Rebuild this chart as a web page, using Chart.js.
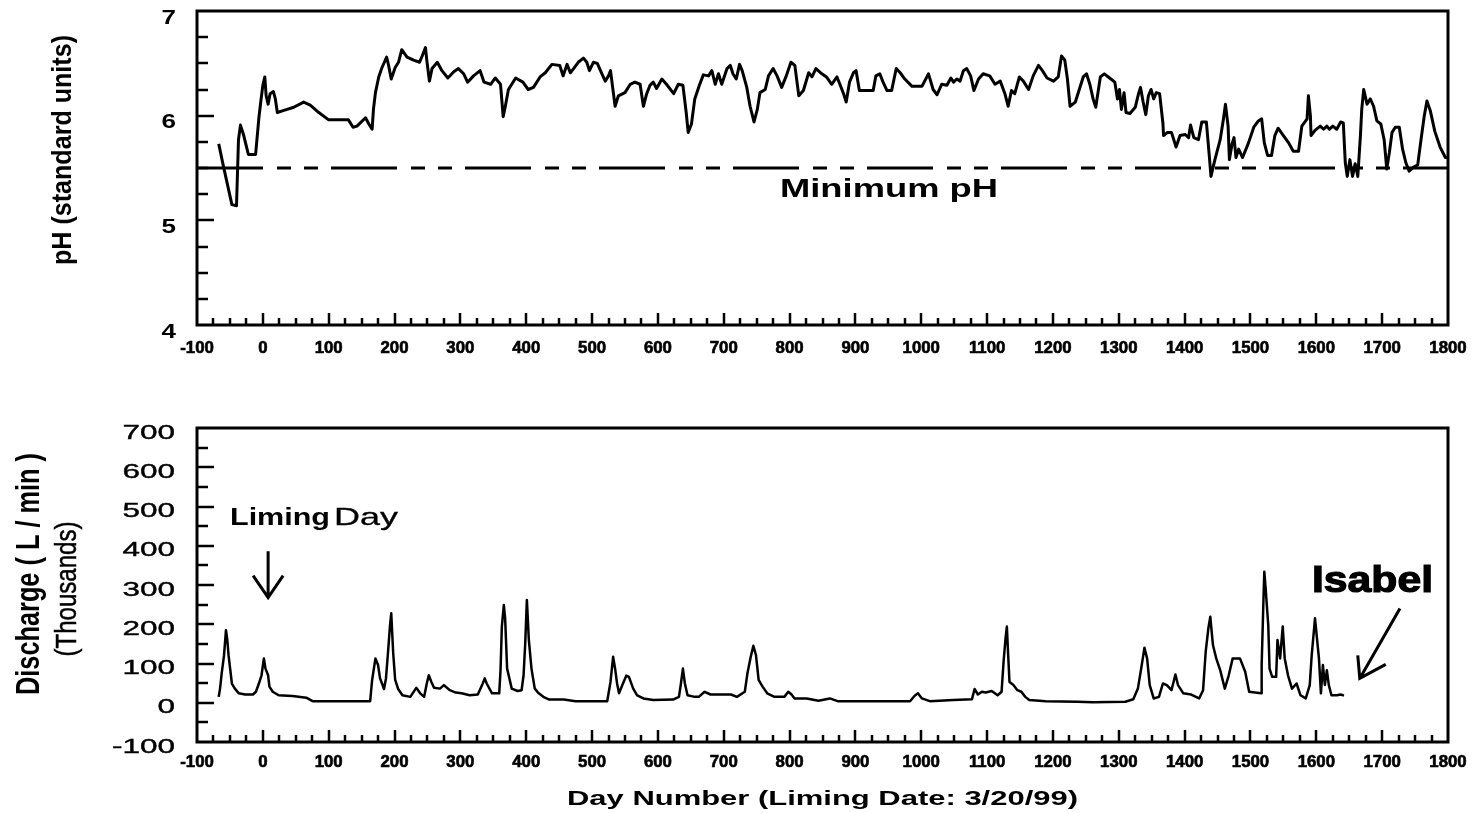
<!DOCTYPE html>
<html>
<head>
<meta charset="utf-8">
<title>Stream pH and discharge after liming</title>
<script src="https://cdn.jsdelivr.net/npm/chart.js@4.4.1/dist/chart.umd.min.js"></script>
<style>
  body { margin: 0; background: #fff; }
  #wrap { position: relative; width: 1476px; height: 813px; }
  canvas { position: absolute; left: 0; }
</style>
</head>
<body>
<div id="wrap">
  <canvas id="phChart" width="1476" height="380" style="top:0"></canvas>
  <canvas id="qChart" width="1476" height="433" style="top:380px"></canvas>
</div>
<script>
// tick labels
const dayTicks = [-100, 0, 100, 200, 300, 400, 500, 600, 700, 800, 900, 1000, 1100, 1200, 1300, 1400, 1500, 1600, 1700, 1800];
const phTicks = [4, 5, 6, 7];
const dischargeTicks = [-100, 0, 100, 200, 300, 400, 500, 600, 700];

// pH record (day number, standard units)
const phDays = [-67, -60, -47, -40, -37, -34, -29, -22, -11, -6, -3, 0, 3, 5, 8, 11, 16, 19, 22, 32, 47, 62, 72, 85, 100, 130, 137, 143, 156, 161, 166, 168, 171, 176, 181, 188, 191, 195, 201, 206, 211, 219, 229, 238, 242, 247, 249, 253, 257, 265, 272, 281, 290, 297, 305, 311, 320, 330, 336, 346, 353, 361, 365, 368, 373, 384,
  395, 403, 411, 421, 429, 439, 451, 456, 462, 467, 472, 479, 487, 492, 496, 502, 508, 515, 520, 525, 528, 535, 540, 550, 558, 565, 573, 578, 583, 588, 593, 598, 606, 613, 624, 631, 638, 643, 646, 651, 656, 663, 669, 677, 682, 687, 692, 697, 705, 710, 714, 719, 724, 728, 735, 740, 746, 751, 755, 763, 768, 775, 781, 788, 795, 802, 808, 814, 821, 829, 834, 840, 849,
  856, 864, 872, 877, 882, 886, 891, 897, 901, 906, 927, 931, 937, 942, 948, 955, 962, 968, 975, 986, 1001, 1011, 1018, 1024, 1031, 1039, 1045, 1049, 1054, 1059, 1064, 1069, 1075, 1080, 1087, 1094, 1104, 1112, 1120, 1127, 1132, 1137, 1142, 1149, 1155, 1163, 1170, 1178, 1184, 1191, 1201, 1208, 1213, 1218, 1222, 1226, 1234, 1240, 1246, 1251, 1256, 1261, 1265, 1272, 1278, 1286, 1294, 1298, 1301, 1304, 1308, 1311,
  1317, 1325, 1330, 1333, 1337, 1341, 1345, 1349, 1353, 1357, 1362, 1367, 1368, 1374, 1380, 1387, 1393, 1401, 1406, 1409, 1414, 1421, 1426, 1433, 1437, 1440, 1446, 1454, 1459, 1462, 1466, 1468, 1472, 1475, 1478, 1482, 1488, 1497, 1505, 1512, 1517, 1521, 1526, 1532, 1537, 1542, 1550, 1558, 1565, 1573, 1578, 1586, 1588, 1591, 1592, 1598, 1606, 1611, 1616, 1620, 1625, 1631, 1637, 1641,
  1644, 1647, 1651, 1655, 1659, 1663, 1667, 1669, 1672, 1677, 1682, 1687, 1692, 1698, 1703, 1707, 1711, 1715, 1720, 1726, 1731, 1736, 1741, 1748, 1754, 1759, 1764, 1768, 1773, 1780, 1788, 1796, 1800];
const phValues = [5.73, 5.52, 5.15, 5.14, 5.77, 5.91, 5.81, 5.63, 5.63, 5.98, 6.14, 6.29, 6.37, 6.19, 6.11, 6.21, 6.23, 6.16, 6.03, 6.05, 6.08, 6.13, 6.10, 6.03, 5.96, 5.96, 5.89, 5.90, 5.98, 5.92, 5.87, 6.06, 6.22, 6.37, 6.46, 6.56, 6.48, 6.35, 6.46, 6.51, 6.63, 6.56, 6.53, 6.51, 6.57, 6.65, 6.53, 6.33, 6.45, 6.51, 6.43, 6.36, 6.42, 6.45, 6.40, 6.32, 6.38, 6.43, 6.32, 6.30, 6.36, 6.30, 5.99, 6.08, 6.25, 6.36,
  6.32, 6.25, 6.27, 6.37, 6.41, 6.49, 6.48, 6.38, 6.49, 6.41, 6.45, 6.51, 6.55, 6.51, 6.43, 6.51, 6.50, 6.40, 6.33, 6.38, 6.43, 6.09, 6.19, 6.22, 6.30, 6.32, 6.30, 6.09, 6.21, 6.29, 6.32, 6.26, 6.35, 6.30, 6.21, 6.30, 6.29, 6.03, 5.84, 5.92, 6.16, 6.29, 6.39, 6.38, 6.43, 6.30, 6.40, 6.30, 6.45, 6.48, 6.40, 6.35, 6.49, 6.43, 6.27, 6.09, 5.94, 6.06, 6.22, 6.25, 6.38, 6.45, 6.38, 6.27, 6.38, 6.51, 6.48, 6.19, 6.24, 6.41, 6.37, 6.45, 6.40,
  6.37, 6.30, 6.37, 6.29, 6.21, 6.13, 6.32, 6.41, 6.43, 6.24, 6.24, 6.38, 6.40, 6.32, 6.24, 6.24, 6.45, 6.41, 6.35, 6.28, 6.28, 6.40, 6.25, 6.20, 6.30, 6.29, 6.36, 6.32, 6.35, 6.33, 6.43, 6.45, 6.38, 6.24, 6.35, 6.40, 6.38, 6.30, 6.33, 6.21, 6.09, 6.24, 6.21, 6.37, 6.33, 6.25, 6.38, 6.48, 6.43, 6.36, 6.33, 6.37, 6.57, 6.53, 6.35, 6.09, 6.13, 6.25, 6.37, 6.40, 6.30, 6.16, 6.08, 6.37, 6.40, 6.36, 6.32, 6.16, 6.25, 6.06, 6.22, 6.03,
  6.02, 6.08, 6.21, 6.27, 6.13, 6.01, 6.19, 6.25, 6.16, 6.22, 6.21, 5.93, 5.81, 5.84, 5.84, 5.70, 5.81, 5.82, 5.79, 5.91, 5.79, 5.77, 5.94, 5.94, 5.65, 5.42, 5.58, 5.77, 5.97, 6.11, 5.90, 5.58, 5.73, 5.79, 5.60, 5.68, 5.60, 5.74, 5.89, 5.95, 5.97, 5.74, 5.62, 5.62, 5.81, 5.88, 5.81, 5.74, 5.66, 5.66, 5.90, 5.97, 6.19, 6.00, 5.81, 5.86, 5.90, 5.87, 5.90, 5.87, 5.90, 5.87, 5.94, 5.93,
  5.55, 5.42, 5.58, 5.42, 5.54, 5.42, 5.81, 6.06, 6.25, 6.11, 6.16, 6.09, 5.95, 5.92, 5.77, 5.49, 5.65, 5.84, 5.89, 5.89, 5.68, 5.55, 5.47, 5.51, 5.53, 5.77, 6.00, 6.14, 6.05, 5.85, 5.70, 5.60, 5.60];
const minPh = 5.5;

// discharge record (day number, thousands of L/min)
const qDays = [-67, -65, -62.5, -59, -56, -54, -52, -47, -42.5, -36.5, -27, -15, -10.5, -6, -2, 1.6, 4, 8, 10, 15, 24, 45, 66, 75.5, 127, 163, 166, 171, 175, 178, 181, 184, 187, 190, 193, 195, 198, 201, 205.5, 212, 224, 233, 239, 245, 249, 252, 256, 260, 269, 275, 284, 293, 302, 314, 326.5, 334, 337, 340, 348, 359, 361, 363, 366, 368, 371, 378, 387, 393, 396, 398.5, 401, 404, 408, 413, 419, 426, 435,
  457, 475, 499, 523, 528, 532, 535, 538, 541, 546, 552, 556, 562.5, 568.5, 578, 593, 623, 632, 635, 638, 641, 645, 656, 662, 671, 680, 711, 720, 732, 736, 741, 745, 749, 753, 759, 766, 777, 792, 798, 803, 807.5, 826, 844, 861, 873, 983, 990, 995, 1001, 1013, 1049, 1077, 1081, 1086, 1092, 1098, 1107, 1116, 1122, 1125, 1128, 1130, 1132, 1134, 1140, 1146, 1152, 1158, 1164, 1189, 1237, 1261,
  1310, 1322, 1329, 1334, 1339, 1343, 1347, 1353, 1361, 1367, 1373, 1380, 1386, 1390, 1398, 1410, 1422, 1428, 1432, 1436, 1439, 1443, 1448, 1454, 1461, 1467, 1473, 1484, 1492, 1498, 1516, 1517, 1519.5, 1521, 1523, 1527, 1529, 1533, 1539, 1541, 1545, 1549, 1552, 1557, 1563, 1570, 1576, 1584, 1590, 1593, 1598, 1601, 1604, 1607, 1610, 1613, 1616, 1619, 1623, 1631, 1637, 1642];
const qValues = [15, 36, 75, 120, 185, 160, 120, 49, 36, 24, 21, 21, 28, 49, 70, 113, 87, 70, 41, 28, 19, 17, 13, 4, 4, 4, 58, 113, 96, 62, 49, 35, 62, 126, 194, 228, 126, 58, 35, 19, 15, 38, 24, 15, 49, 70, 53, 38, 36, 45, 32, 26, 24, 19, 21, 49, 62, 49, 24, 24, 83, 194, 249, 215, 87, 36, 30, 32, 70, 151, 262, 160, 87, 36, 24, 15, 8,
  8, 4, 4, 4, 53, 117, 87, 49, 24, 45, 69, 66, 36, 19, 11, 7, 8, 15, 49, 87, 49, 19, 15, 15, 28, 21, 21, 15, 28, 75, 117, 145, 121, 58, 41, 24, 15, 15, 28, 21, 11, 11, 5, 11, 4, 4, 18, 24, 11, 4, 7, 9, 35, 21, 28, 26, 30, 19, 28, 104, 164, 194, 121, 53, 45, 32, 28, 15, 7, 4, 2.5, 1,
  2.5, 9, 36, 87, 140, 113, 45, 11, 15, 49, 45, 32, 72, 45, 24, 21, 11, 32, 130, 189, 219, 147, 113, 83, 36, 70, 113, 113, 79, 28, 24, 96, 249, 334, 292, 198, 87, 66, 66, 160, 113, 194, 113, 70, 36, 49, 19, 11, 45, 121, 215, 164, 113, 24, 96, 45, 83, 45, 19, 19, 21, 18];

const FONT = '"Liberation Sans", Arial, Helvetica, sans-serif';
const Q_TOP = 380; // page offset of the lower canvas

// text squeezed or stretched sideways by a factor
function scaledText(ctx, text, font, x, y, sx, align, heavy) {
    ctx.save();
    ctx.font = font;
    ctx.fillStyle = '#000';
    ctx.strokeStyle = '#000';
    ctx.textAlign = align;
    ctx.textBaseline = 'alphabetic';
    ctx.translate(x, y);
    ctx.scale(sx, 1);
    ctx.fillText(text, 0, 0);
    if (heavy) {
        ctx.lineWidth = heavy;
        ctx.strokeText(text, 0, 0);
    }
    ctx.restore();
}

// text fitted to a given width
function fittedText(ctx, text, font, x, y, width, align, heavy) {
    ctx.save();
    ctx.font = font;
    const sx = width / ctx.measureText(text).width;
    ctx.restore();
    scaledText(ctx, text, font, x, y, sx, align, heavy);
}

// rotated axis title, reading bottom to top
function verticalText(ctx, text, font, cx, cy, length, thick, heavy) {
    ctx.save();
    ctx.font = font;
    const w = ctx.measureText(text).width;
    ctx.fillStyle = '#000';
    ctx.strokeStyle = '#000';
    ctx.textAlign = 'center';
    ctx.textBaseline = 'middle';
    ctx.translate(cx, cy);
    ctx.rotate(-Math.PI / 2);
    ctx.scale(length / w, thick);
    ctx.fillText(text, 0, 0);
    if (heavy) {
        ctx.lineWidth = heavy;
        ctx.strokeText(text, 0, 0);
    }
    ctx.restore();
}

// box round the plot, inward tick marks and the day labels under it
function drawFrame(chart, yMinor, yMajor, labelBase) {
    const ctx = chart.ctx;
    const a = chart.chartArea;
    const xs = chart.scales.x;
    const ys = chart.scales.y;
    ctx.save();
    ctx.strokeStyle = '#000';
    ctx.lineWidth = 2.5;
    ctx.beginPath();
    for (let d = xs.min + 25; d < xs.max; d += 25) {
        const px = Math.round(xs.getPixelForValue(d));
        const len = d % 100 === 0 ? 12 : 7;
        ctx.moveTo(px, a.bottom);
        ctx.lineTo(px, a.bottom - len);
    }
    for (let v = ys.min + yMinor; v < ys.max; v += yMinor) {
        const py = Math.round(ys.getPixelForValue(v));
        const r = v / yMajor;
        const len = Math.abs(r - Math.round(r)) < 1e-6 ? 17 : 11;
        ctx.moveTo(a.left, py);
        ctx.lineTo(a.left + len, py);
    }
    ctx.stroke();
    ctx.lineWidth = 3;
    ctx.strokeRect(a.left, a.top, a.right - a.left, a.bottom - a.top);
    ctx.restore();

    xs.ticks.forEach(t => {
        scaledText(ctx, String(t.value), 'bold 16px ' + FONT, xs.getPixelForValue(t.value), a.bottom + labelBase, 1.05, 'center', 0.6);
    });
}

// arrow given in data units, head drawn in pixels
function arrow(ctx, xs, ys, from, to, arms) {
    const x1 = xs.getPixelForValue(from[0]), y1 = ys.getPixelForValue(from[1]);
    const x2 = xs.getPixelForValue(to[0]), y2 = ys.getPixelForValue(to[1]);
    ctx.save();
    ctx.strokeStyle = '#000';
    ctx.lineWidth = 3;
    ctx.beginPath();
    ctx.moveTo(x1, y1);
    ctx.lineTo(x2, y2);
    ctx.moveTo(x2 + arms[0][0], y2 + arms[0][1]);
    ctx.lineTo(x2, y2);
    ctx.lineTo(x2 + arms[1][0], y2 + arms[1][1]);
    ctx.stroke();
    ctx.restore();
}

function toPoints(xs, ys) {
    return xs.map((x, i) => ({ x: x, y: ys[i] }));
}

function chartOptions(cfg) {
    return {
        responsive: false,
        animation: false,
        events: [],
        layout: { padding: { top: cfg.top, right: 28, left: 0, bottom: 0 } },
        plugins: { legend: { display: false }, tooltip: { enabled: false } },
        elements: { point: { radius: 0 }, line: { tension: 0, borderJoinStyle: 'round' } },
        scales: {
            x: {
                type: 'linear',
                min: dayTicks[0],
                max: dayTicks[dayTicks.length - 1],
                afterBuildTicks: s => { s.ticks = dayTicks.map(v => ({ value: v })); },
                afterFit: s => { s.height = cfg.xHeight; },
                grid: { display: false, drawTicks: false },
                border: { display: false },
                ticks: { display: false }
            },
            y: {
                type: 'linear',
                min: cfg.yTicks[0],
                max: cfg.yTicks[cfg.yTicks.length - 1],
                afterBuildTicks: s => { s.ticks = cfg.yTicks.map(v => ({ value: v })); },
                afterFit: s => { s.width = 197; },
                grid: { display: false, drawTicks: false },
                border: { display: false },
                ticks: { display: false }
            }
        }
    };
}

// upper panel: pH
new Chart(document.getElementById('phChart'), {
    type: 'line',
    data: {
        datasets: [
            { data: toPoints(phDays, phValues), borderColor: '#000', borderWidth: 3, pointRadius: 0 },
            {
                data: toPoints([dayTicks[0], dayTicks[dayTicks.length - 1]], [minPh, minPh]),
                borderColor: '#000', borderWidth: 3, pointRadius: 0,
                borderDash: [66, 14, 14, 13, 14, 13]
            }
        ]
    },
    options: chartOptions({ top: 11, xHeight: 55, yTicks: phTicks }),
    plugins: [{
        id: 'phDecor',
        afterDraw(chart) {
            const ctx = chart.ctx;
            const ys = chart.scales.y;
            drawFrame(chart, 0.25, 1, 28);
            ys.ticks.forEach(t => {
                scaledText(ctx, String(t.value), 'bold 20px ' + FONT, 176, ys.getPixelForValue(t.value) + 12.5, 1.3, 'right');
            });
            verticalText(ctx, 'pH (standard units)', 'bold 25px ' + FONT, 63, 150, 230, 1.1);
            fittedText(ctx, 'Minimum pH', 'bold 25px ' + FONT, 780, 197, 218, 'left');
        }
    }]
});

// lower panel: discharge
new Chart(document.getElementById('qChart'), {
    type: 'line',
    data: {
        datasets: [
            { data: toPoints(qDays, qValues), borderColor: '#000', borderWidth: 2.5, pointRadius: 0 }
        ]
    },
    options: chartOptions({ top: 428 - Q_TOP, xHeight: 433 - (742 - Q_TOP), yTicks: dischargeTicks }),
    plugins: [{
        id: 'qDecor',
        afterDraw(chart) {
            const ctx = chart.ctx;
            const xs = chart.scales.x;
            const ys = chart.scales.y;
            drawFrame(chart, 50, 100, 25);
            ys.ticks.forEach(t => {
                scaledText(ctx, String(t.value), '21px ' + FONT, 175, ys.getPixelForValue(t.value) + 10.5, 1.5, 'right', 0.4);
            });
            verticalText(ctx, 'Discharge ( L / min )', 'bold 25px ' + FONT, 30, 574 - Q_TOP, 242, 1.3);
            verticalText(ctx, '(Thousands)', '24px ' + FONT, 68, 589 - Q_TOP, 135, 1.2, 0.4);

            fittedText(ctx, 'Liming', 'bold 24px ' + FONT, 230, 525 - Q_TOP, 100, 'left');
            fittedText(ctx, 'Day', '24px ' + FONT, 334, 525 - Q_TOP, 64, 'left', 0.3);
            arrow(ctx, xs, ys, [8, 386], [8, 268], [[-15, -22], [15, -22]]);

            fittedText(ctx, 'Isabel', 'bold 36px ' + FONT, 1312, 592 - Q_TOP, 121, 'left', 1.2);
            arrow(ctx, xs, ys, [1727, 240], [1666, 62], [[-2, -23], [26, -14]]);

            fittedText(ctx, 'Day Number (Liming Date: 3/20/99)', 'bold 21px ' + FONT, 567, 805 - Q_TOP, 511, 'left');
        }
    }]
});
</script>
</body>
</html>
